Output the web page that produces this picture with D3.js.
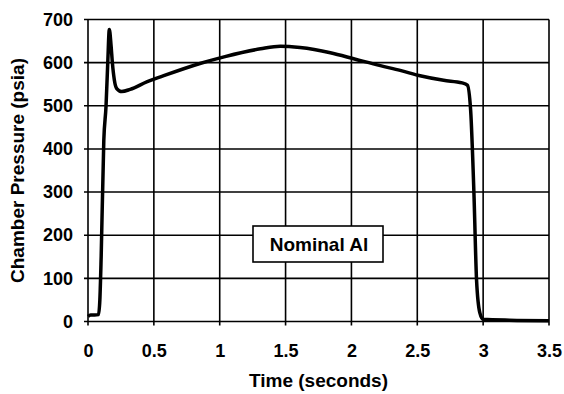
<!DOCTYPE html>
<html>
<head>
<meta charset="utf-8">
<script src="https://cdn.jsdelivr.net/npm/d3@7"></script>
<style>
  body { margin: 0; background: #fff; }
  text { font-family: "Liberation Sans", Arial, sans-serif; font-weight: bold; fill: #000; }
</style>
</head>
<body>
<svg width="564" height="394"></svg>
<script>
// time (s) and chamber pressure (psia)
var time = [0, 0.02, 0.05, 0.08, 0.09, 0.1, 0.12, 0.137, 0.15, 0.162, 0.175, 0.185, 0.2, 0.218, 0.256,
  0.32, 0.45, 0.55, 0.85, 1.04, 1.31, 1.46, 1.61, 1.84, 2.03, 2.22, 2.37, 2.53, 2.7, 2.84, 2.88,
  2.905, 2.93, 2.95, 2.975, 3.0, 3.2, 3.5];
var pressure = [12, 15, 15, 16, 50, 150, 420, 500, 600, 677, 640, 600, 560, 540, 533,
  538, 556, 567, 598, 614, 632, 638, 635, 623, 608, 593, 582, 569, 559, 553, 548,
  490, 298, 96, 20, 5, 3, 2];
var xTicks = [0, 0.5, 1, 1.5, 2, 2.5, 3, 3.5];
var yTicks = [0, 100, 200, 300, 400, 500, 600, 700];
var legendLabel = "Nominal Al";

var svg = d3.select("svg");
var pL = 88, pR = 549, pT = 19.5, pB = 321.5;

var x = d3.scaleLinear().domain([0, 3.5]).range([pL, pR]);
var y = d3.scaleLinear().domain([0, 700]).range([pB, pT]);

// grid
svg.append("g")
  .selectAll("line")
  .data(xTicks)
  .enter()
  .append("line")
  .attr("x1", d => x(d)).attr("x2", d => x(d))
  .attr("y1", pT).attr("y2", pB + 4)
  .attr("stroke", "#000").attr("stroke-width", 1.6);

svg.append("g")
  .selectAll("line")
  .data(yTicks)
  .enter()
  .append("line")
  .attr("x1", pL - 4).attr("x2", pR)
  .attr("y1", d => y(d)).attr("y2", d => y(d))
  .attr("stroke", "#000").attr("stroke-width", 1.6);

// tick labels through d3 axes, axis lines removed
var xAxis = d3.axisBottom(x).tickValues(xTicks).tickFormat(d3.format("")).tickSize(0).tickPadding(23);
var yAxis = d3.axisLeft(y).tickValues(yTicks).tickSize(0).tickPadding(15);

svg.append("g")
  .attr("transform", "translate(0," + pB + ")")
  .call(xAxis)
  .call(g => g.select(".domain").remove())
  .selectAll("text")
  .style("font-size", "18px").attr("fill", "#000");

svg.append("g")
  .attr("transform", "translate(" + pL + ",0)")
  .call(yAxis)
  .call(g => g.select(".domain").remove())
  .selectAll("text")
  .style("font-size", "18px").attr("fill", "#000");

// pressure trace
var pts = time.map((t, i) => [t, pressure[i]]);
svg.append("path")
  .datum(pts)
  .attr("fill", "none")
  .attr("stroke", "#000")
  .attr("stroke-width", 3.5)
  .attr("stroke-linejoin", "round")
  .attr("d", d3.line().x(d => x(d[0])).y(d => y(d[1])).curve(d3.curveMonotoneX));

// legend box
svg.append("rect")
  .attr("x", 253).attr("y", 226)
  .attr("width", 130).attr("height", 36)
  .attr("fill", "#fff").attr("stroke", "#000").attr("stroke-width", 1.6);
svg.append("text")
  .attr("x", 319).attr("y", 250.5)
  .attr("text-anchor", "middle")
  .style("font-size", "19px")
  .text(legendLabel);

// titles
svg.append("text")
  .attr("x", (pL + pR) / 2).attr("y", 387)
  .attr("text-anchor", "middle")
  .style("font-size", "19px")
  .text("Time (seconds)");

svg.append("text")
  .attr("transform", "translate(24," + ((pT + pB) / 2) + ") rotate(-90)")
  .attr("text-anchor", "middle")
  .style("font-size", "19px")
  .text("Chamber Pressure (psia)");
</script>
</body>
</html>
